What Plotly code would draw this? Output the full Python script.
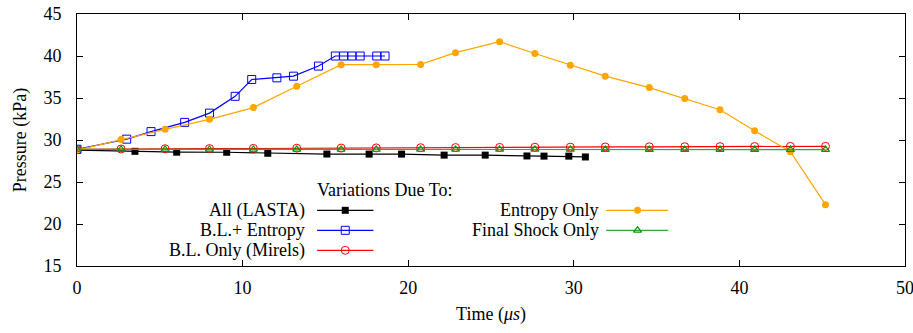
import plotly.graph_objects as go

# ---- data ----
t_all = [0.0, 3.5, 6.02, 9.04, 11.52, 15.09, 17.64, 19.6, 22.17, 24.65, 27.17, 28.2, 29.7, 30.7]
p_all = [28.8, 28.65, 28.55, 28.54, 28.42, 28.33, 28.32, 28.32, 28.2, 28.2, 28.1, 28.08, 28.08, 27.98]

t_ble = [0.0, 3.0, 4.47, 6.5, 8.0, 9.55, 10.55, 12.07, 13.07, 14.58, 15.6, 16.1, 16.6, 17.1, 18.1, 18.6]
p_ble = [28.9, 30.1, 31.0, 32.1, 33.2, 35.2, 37.2, 37.4, 37.6, 38.8, 40.0, 40.0, 40.0, 40.0, 40.0, 40.0]

t_ent = [0.0, 2.66, 5.32, 8.0, 10.65, 13.27, 15.95, 18.07, 20.75, 22.86, 25.52, 27.65,
         29.79, 31.9, 34.56, 36.7, 38.83, 40.92, 43.08, 45.2]
p_ent = [28.8, 30.05, 31.27, 32.46, 33.86, 36.4, 38.97, 38.97, 39.0, 40.4, 41.7, 40.3,
         38.9, 37.6, 36.24, 34.93, 33.6, 31.1, 28.6, 22.3]

t_bl = t_ent
p_bl = [28.9, 28.93, 28.96, 28.98, 29.0, 29.02, 29.04, 29.06, 29.08, 29.1, 29.12, 29.14,
        29.15, 29.17, 29.19, 29.2, 29.21, 29.22, 29.24, 29.25]

t_fs = t_ent
p_fs = [28.88, 28.88, 28.88, 28.88, 28.88, 28.88, 28.87, 28.87, 28.87, 28.87, 28.87, 28.87,
        28.87, 28.86, 28.86, 28.86, 28.86, 28.86, 28.86, 28.86]

x_ticks = [0, 10, 20, 30, 40, 50]
y_ticks = [15, 20, 25, 30, 35, 40, 45]

names = ["All (LASTA)", "B.L.+ Entropy", "B.L. Only (Mirels)", "Entropy Only", "Final Shock Only"]
legend_title = "Variations Due To:"

FONT = "'Liberation Serif', 'Times New Roman', Times, 'DejaVu Serif', serif"
FS = 18

series = [
    (t_all, p_all, "black", dict(symbol="square", size=7, color="black")),
    (t_ble, p_ble, "#0000ff", dict(symbol="square-open", size=8, color="#0000ff", line=dict(width=1))),
    (t_bl, p_bl, "#ff0000", dict(symbol="circle-open", size=8, color="#ff0000", line=dict(width=1))),
    (t_ent, p_ent, "#ffa500", dict(symbol="circle", size=7, color="#ffa500")),
    (t_fs, p_fs, "#33aa33", dict(symbol="triangle-up-open", size=7, color="#009900", line=dict(width=1.2))),
]

fig = go.Figure()
for (t, p, c, m), n in zip(series, names):
    fig.add_trace(go.Scatter(x=t, y=p, mode="lines+markers", name=n,
                             line=dict(color=c, width=1.2), marker=m, showlegend=False))

# ---- hand-made legend (text left of sample), in data units ----
leg_rows_y = [21.63, 19.25, 16.87, 21.63, 19.25]
leg_col_x = [(14.5, 16.2, 17.9, 13.9)] * 3 + [(31.95, 33.85, 35.7, 31.65)] * 2
for (t, p, c, m), n, ly, (x0, xm, x1, xt) in zip(series, names, leg_rows_y, leg_col_x):
    fig.add_trace(go.Scatter(x=[x0, x1], y=[ly, ly], mode="lines",
                             line=dict(color=c, width=1.2), showlegend=False, hoverinfo="skip"))
    fig.add_trace(go.Scatter(x=[xm], y=[ly], mode="markers", marker=m,
                             showlegend=False, hoverinfo="skip"))
    fig.add_annotation(x=xt, y=ly, text=n, showarrow=False, xanchor="right", yanchor="middle",
                       font=dict(family=FONT, size=FS, color="black"))
fig.add_annotation(x=18.55, y=24.0, text=legend_title, showarrow=False, xanchor="center",
                   yanchor="middle", font=dict(family=FONT, size=FS, color="black"))

axis_common = dict(showline=True, linecolor="black", linewidth=1, mirror="ticks",
                   ticks="inside", ticklen=6, tickwidth=1, tickcolor="black",
                   showgrid=False, zeroline=False, automargin=False,
                   ticklabeloverflow="allow",
                   tickfont=dict(family=FONT, size=FS, color="black"))

fig.update_xaxes(range=[0, 50], tickvals=x_ticks, ticklabelstandoff=5,
                 title=dict(text="Time (<i>μs</i>)", font=dict(family=FONT, size=FS, color="black"),
                            standoff=10),
                 **axis_common)
fig.update_yaxes(range=[15, 45], tickvals=y_ticks, ticklabelstandoff=11,
                 title=dict(text="Pressure (kPa)", font=dict(family=FONT, size=FS, color="black"),
                            standoff=12),
                 **axis_common)

fig.update_layout(width=913, height=333, margin=dict(l=77, r=8, t=14, b=67),
                  paper_bgcolor="white", plot_bgcolor="white",
                  font=dict(family=FONT, size=FS, color="black"))

fig.write_html("out.html")
